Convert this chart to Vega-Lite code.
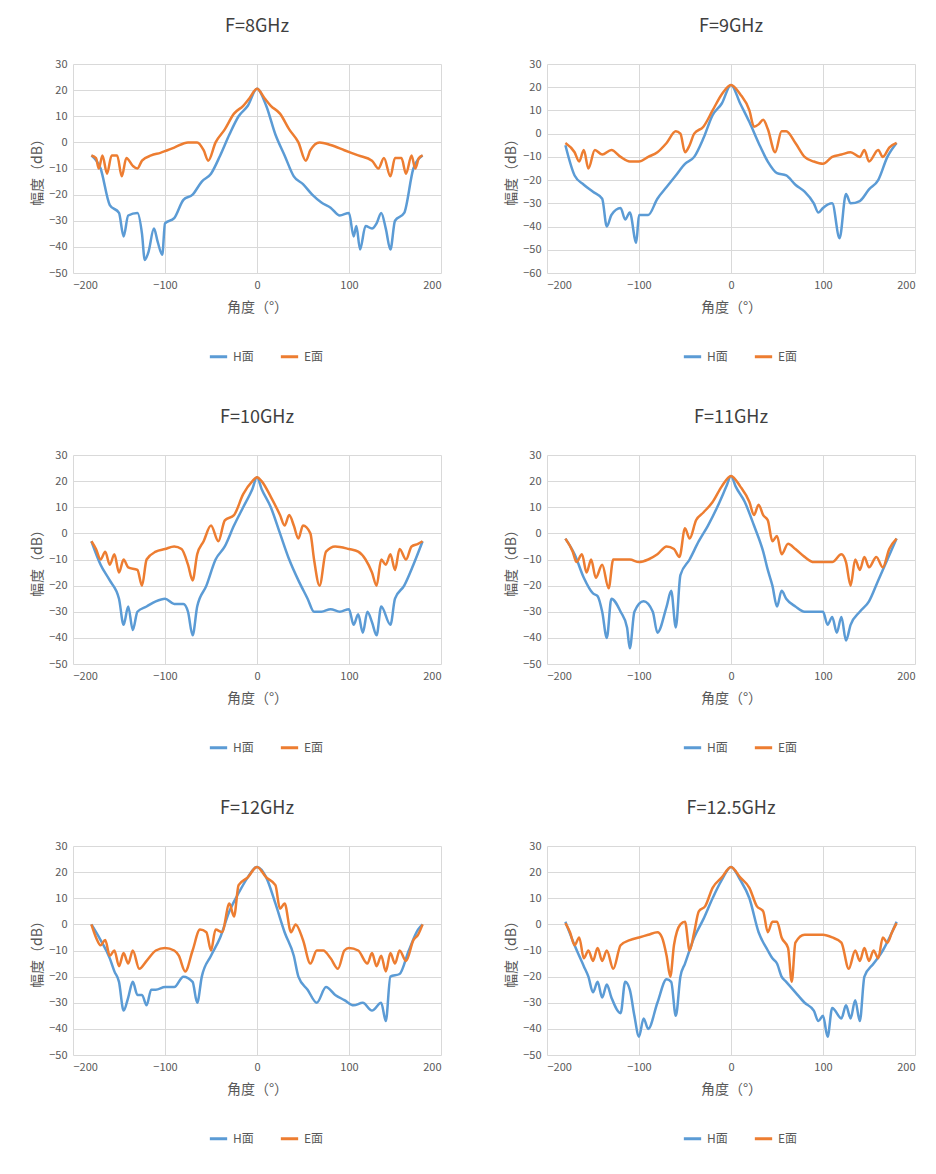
{"$schema":"https://vega.github.io/schema/vega-lite/v6.json","padding":{"left":30,"top":18,"right":5,"bottom":5},"config":{"font":"Noto Sans CJK SC","view":{"stroke":null},"axis":{"labelFontSize":11,"labelColor":"#595959","titleColor":"#595959","titleFontSize":14,"titleFontWeight":"normal","gridColor":"#d9d9d9","domain":false,"ticks":false,"labelPadding":6},"axisX":{"titlePadding":10},"title":{"fontSize":18,"fontWeight":"normal","color":"#404040","offset":22},"legend":{"orient":"none","legendX":135,"legendY":282,"direction":"horizontal","labelFontSize":12,"labelColor":"#595959","symbolType":"stroke","symbolStrokeWidth":3,"symbolSize":300,"title":null,"columnPadding":20}},
"spacing":{"column":63,"row":46},
"columns":2,
"resolve":{"legend":{"color":"independent"},"scale":{"y":"independent"}},
"datasets":{
"d8":[["H",-180,-5],["H",-170,-10],["H",-160,-24],["H",-150,-27],["H",-145,-36],["H",-140,-28],["H",-130,-27],["H",-125,-35],["H",-122,-45],["H",-118,-42],["H",-112,-33],["H",-108,-38],["H",-103,-43],["H",-100,-31],["H",-90,-29],["H",-80,-22],["H",-70,-20],["H",-60,-15],["H",-50,-12],["H",-40,-5],["H",-30,3],["H",-20,10],["H",-10,14],["H",0,20.5],["H",10,14],["H",20,3],["H",30,-5],["H",40,-13],["H",50,-16],["H",60,-20],["H",70,-23],["H",80,-25],["H",90,-28],["H",100,-27],["H",105,-36],["H",108,-32],["H",112,-41],["H",118,-32],["H",125,-33],["H",130,-31],["H",135,-27],["H",140,-33],["H",145,-41],["H",150,-30],["H",160,-27],["H",170,-10],["H",180,-5],
["E",-180,-5],["E",-175,-6],["E",-172,-10],["E",-168,-5],["E",-163,-12],["E",-158,-5],["E",-152,-5],["E",-147,-13],["E",-142,-6],["E",-135,-9],["E",-130,-10],["E",-125,-7],["E",-115,-5],["E",-105,-4],["E",-90,-2],["E",-75,0],["E",-65,0],["E",-58,-3],["E",-53,-7],["E",-45,0],["E",-35,5],["E",-25,11],["E",-15,14],["E",-8,17],["E",0,20.5],["E",8,17],["E",15,14],["E",25,11],["E",35,5],["E",45,0],["E",53,-7],["E",58,-3],["E",68,0],["E",80,-1],["E",95,-3],["E",110,-5],["E",125,-7],["E",132,-10],["E",138,-6],["E",145,-13],["E",150,-6],["E",157,-6],["E",162,-12],["E",168,-5],["E",172,-10],["E",176,-6],["E",180,-5]],
"d9":[["H",-180,-5],["H",-170,-18],["H",-160,-22],["H",-150,-25],["H",-140,-28],["H",-135,-40],["H",-130,-35],["H",-120,-32],["H",-115,-37],["H",-110,-34],["H",-103,-47],["H",-100,-35],["H",-90,-35],["H",-80,-28],["H",-70,-23],["H",-60,-18],["H",-50,-13],["H",-40,-10],["H",-30,-2],["H",-20,8],["H",-10,13],["H",0,21],["H",10,13],["H",20,5],["H",30,-4],["H",40,-12],["H",50,-17],["H",60,-18],["H",70,-22],["H",80,-25],["H",90,-30],["H",95,-34],["H",100,-32],["H",110,-30],["H",118,-45],["H",125,-26],["H",130,-30],["H",140,-29],["H",150,-24],["H",160,-20],["H",170,-10],["H",180,-4],
["E",-180,-4],["E",-170,-8],["E",-165,-12],["E",-160,-7],["E",-155,-15],["E",-148,-7],["E",-140,-9],["E",-130,-7],["E",-120,-10],["E",-110,-12],["E",-100,-12],["E",-90,-10],["E",-80,-8],["E",-70,-4],["E",-60,1],["E",-55,0],["E",-50,-8],["E",-45,-5],["E",-40,0],["E",-30,3],["E",-20,10],["E",-10,17],["E",0,21],["E",10,17],["E",20,10],["E",25,3],["E",30,4],["E",35,6],["E",40,2],["E",48,-8],["E",55,1],["E",60,1],["E",70,-4],["E",80,-10],["E",90,-12],["E",100,-13],["E",110,-10],["E",120,-9],["E",130,-8],["E",140,-10],["E",145,-7],["E",150,-12],["E",160,-7],["E",165,-10],["E",172,-6],["E",180,-4]],
"d10":[["H",-180,-3],["H",-170,-12],["H",-160,-18],["H",-150,-25],["H",-145,-35],["H",-140,-28],["H",-135,-37],["H",-130,-30],["H",-120,-28],["H",-110,-26],["H",-100,-25],["H",-90,-27],["H",-80,-27],["H",-75,-30],["H",-70,-39],["H",-65,-28],["H",-55,-20],["H",-45,-10],["H",-35,-5],["H",-25,3],["H",-15,10],["H",-5,17],["H",0,21.5],["H",5,17],["H",15,10],["H",25,0],["H",35,-10],["H",45,-18],["H",55,-25],["H",62,-30],["H",70,-30],["H",80,-29],["H",90,-30],["H",100,-29],["H",105,-35],["H",110,-31],["H",115,-38],["H",120,-30],["H",125,-34],["H",130,-39],["H",135,-28],["H",145,-35],["H",150,-25],["H",160,-20],["H",170,-12],["H",180,-3],
["E",-180,-3],["E",-175,-6],["E",-170,-10],["E",-165,-7],["E",-160,-12],["E",-155,-8],["E",-150,-15],["E",-145,-10],["E",-140,-13],["E",-130,-14],["E",-125,-20],["E",-120,-10],["E",-110,-7],["E",-100,-6],["E",-90,-5],["E",-82,-6],["E",-75,-12],["E",-70,-18],["E",-65,-8],["E",-58,-3],["E",-50,3],["E",-42,-3],["E",-35,5],["E",-25,7],["E",-15,15],["E",-5,20],["E",0,21.5],["E",5,20],["E",15,14],["E",25,7],["E",30,3],["E",35,7],["E",40,3],["E",45,-2],["E",50,3],["E",58,0],["E",62,-10],["E",68,-20],["E",75,-7],["E",85,-5],["E",100,-6],["E",110,-7],["E",118,-10],["E",125,-15],["E",130,-20],["E",135,-10],["E",140,-12],["E",145,-8],["E",150,-14],["E",155,-6],["E",162,-10],["E",168,-5],["E",175,-4],["E",180,-3]],
"d11":[["H",-180,-2],["H",-170,-8],["H",-160,-17],["H",-150,-23],["H",-145,-24],["H",-140,-30],["H",-135,-40],["H",-130,-25],["H",-120,-30],["H",-113,-36],["H",-110,-44],["H",-105,-30],["H",-95,-26],["H",-85,-30],["H",-80,-38],["H",-70,-28],["H",-65,-22],["H",-60,-36],["H",-55,-16],["H",-45,-10],["H",-35,-3],["H",-25,3],["H",-15,10],["H",-5,18],["H",0,22],["H",5,18],["H",15,12],["H",25,3],["H",35,-7],["H",40,-14],["H",45,-20],["H",50,-28],["H",55,-22],["H",60,-25],["H",70,-28],["H",80,-30],["H",90,-30],["H",100,-30],["H",105,-35],["H",110,-32],["H",115,-38],["H",120,-32],["H",125,-41],["H",130,-35],["H",140,-30],["H",150,-26],["H",160,-18],["H",170,-10],["H",180,-2],
["E",-180,-2],["E",-172,-7],["E",-168,-11],["E",-162,-8],["E",-157,-15],["E",-152,-10],["E",-147,-17],["E",-140,-12],["E",-133,-21],["E",-128,-10],["E",-120,-10],["E",-110,-10],["E",-100,-11],["E",-90,-10],["E",-80,-8],["E",-70,-5],["E",-62,-6],["E",-56,-9],["E",-50,2],["E",-45,-2],["E",-38,5],["E",-30,8],["E",-20,12],["E",-10,18],["E",0,22],["E",10,18],["E",20,12],["E",25,7],["E",30,11],["E",35,7],["E",40,5],["E",45,-3],["E",50,-1],["E",55,-8],["E",62,-4],["E",70,-6],["E",80,-9],["E",90,-11],["E",100,-11],["E",110,-11],["E",120,-8],["E",125,-11],["E",130,-20],["E",135,-10],["E",140,-14],["E",145,-9],["E",150,-13],["E",158,-9],["E",165,-13],["E",172,-6],["E",180,-2]],
"d12":[["H",-180,0],["H",-170,-6],["H",-160,-13],["H",-155,-18],["H",-150,-22],["H",-145,-33],["H",-140,-28],["H",-135,-22],["H",-130,-27],["H",-125,-27],["H",-120,-31],["H",-115,-25],["H",-110,-25],["H",-100,-24],["H",-90,-24],["H",-80,-20],["H",-70,-22],["H",-65,-30],["H",-60,-20],["H",-50,-12],["H",-40,-5],["H",-30,5],["H",-20,12],["H",-10,18],["H",0,22],["H",10,18],["H",20,8],["H",30,-3],["H",40,-12],["H",45,-20],["H",55,-25],["H",65,-30],["H",75,-24],["H",85,-27],["H",95,-29],["H",105,-31],["H",115,-30],["H",125,-33],["H",135,-30],["H",140,-37],["H",145,-20],["H",155,-19],["H",165,-10],["H",175,-2],["H",180,0],
["E",-180,0],["E",-175,-5],["E",-170,-8],["E",-165,-6],["E",-160,-12],["E",-155,-10],["E",-150,-16],["E",-145,-11],["E",-140,-15],["E",-135,-10],["E",-128,-17],["E",-120,-14],["E",-110,-10],["E",-100,-9],["E",-90,-10],["E",-85,-12],["E",-78,-18],["E",-70,-10],["E",-62,-2],["E",-55,-3],["E",-50,-10],["E",-45,-2],["E",-38,-3],["E",-30,8],["E",-25,3],["E",-20,15],["E",-10,18],["E",0,22],["E",10,18],["E",20,15],["E",25,6],["E",30,8],["E",37,-3],["E",42,0],["E",50,-6],["E",58,-15],["E",65,-10],["E",72,-10],["E",80,-13],["E",88,-17],["E",95,-10],["E",100,-9],["E",110,-10],["E",120,-15],["E",125,-11],["E",130,-16],["E",135,-12],["E",140,-18],["E",145,-11],["E",150,-15],["E",155,-10],["E",162,-14],["E",170,-6],["E",175,-4],["E",180,0]],
"d125":[["H",-180,1],["H",-170,-8],["H",-160,-16],["H",-155,-20],["H",-150,-26],["H",-145,-22],["H",-140,-28],["H",-135,-23],["H",-130,-28],["H",-120,-34],["H",-115,-22],["H",-110,-25],["H",-105,-35],["H",-100,-43],["H",-95,-36],["H",-90,-40],["H",-80,-30],["H",-70,-21],["H",-65,-22],["H",-60,-35],["H",-55,-20],["H",-50,-15],["H",-40,-5],["H",-30,2],["H",-20,10],["H",-10,17],["H",0,22],["H",10,17],["H",20,10],["H",30,-3],["H",40,-10],["H",45,-13],["H",50,-15],["H",55,-20],["H",60,-22],["H",70,-26],["H",80,-30],["H",90,-33],["H",95,-37],["H",100,-35],["H",105,-43],["H",110,-32],["H",120,-36],["H",125,-31],["H",130,-36],["H",135,-29],["H",140,-37],["H",145,-20],["H",155,-15],["H",165,-10],["H",175,-3],["H",180,1],
["E",-180,0.5],["E",-175,-3],["E",-170,-8],["E",-165,-5],["E",-160,-13],["E",-155,-10],["E",-150,-14],["E",-145,-9],["E",-140,-14],["E",-135,-10],["E",-128,-17],["E",-120,-8],["E",-110,-6],["E",-100,-5],["E",-90,-4],["E",-80,-3],["E",-75,-5],["E",-70,-12],["E",-66,-20],["E",-62,-8],["E",-55,0],["E",-50,1],["E",-45,-10],["E",-40,-3],["E",-35,5],["E",-28,7],["E",-20,14],["E",-10,18],["E",0,22],["E",10,18],["E",20,14],["E",28,7],["E",35,5],["E",40,-3],["E",45,1],["E",50,1],["E",55,-5],["E",62,-9],["E",66,-22],["E",70,-7],["E",80,-4],["E",100,-4],["E",110,-5],["E",120,-7],["E",128,-17],["E",135,-10],["E",140,-14],["E",145,-9],["E",150,-14],["E",155,-10],["E",160,-13],["E",165,-5],["E",170,-7],["E",175,-3],["E",180,0.5]]
},
"concat":[
{"title":"F=8GHz","data":{"name":"d8"},"width":368,"height":209,"transform":[{"calculate":"datum[0]+'面'","as":"s"},{"calculate":"datum[1]","as":"a"},{"calculate":"datum[2]","as":"v"}],"mark":{"type":"line","interpolate":"monotone","strokeWidth":2.5},"encoding":{"x":{"field":"a","type":"quantitative","title":"角度（°）","scale":{"domain":[-200,200],"nice":false},"axis":{"values":[-200,-100,0,100,200]}},"y":{"field":"v","type":"quantitative","title":"幅度（dB）","scale":{"domain":[-50,30],"nice":false},"axis":{"tickCount":8}},"color":{"field":"s","type":"nominal","sort":["H面","E面"],"scale":{"domain":["H面","E面"],"range":["#5B9BD5","#ED7D31"]}},"order":{"field":"a"}}},
{"title":"F=9GHz","data":{"name":"d9"},"width":368,"height":209,"transform":[{"calculate":"datum[0]+'面'","as":"s"},{"calculate":"datum[1]","as":"a"},{"calculate":"datum[2]","as":"v"}],"mark":{"type":"line","interpolate":"monotone","strokeWidth":2.5},"encoding":{"x":{"field":"a","type":"quantitative","title":"角度（°）","scale":{"domain":[-200,200],"nice":false},"axis":{"values":[-200,-100,0,100,200]}},"y":{"field":"v","type":"quantitative","title":"幅度（dB）","scale":{"domain":[-60,30],"nice":false},"axis":{"tickCount":9}},"color":{"field":"s","type":"nominal","sort":["H面","E面"],"scale":{"domain":["H面","E面"],"range":["#5B9BD5","#ED7D31"]}},"order":{"field":"a"}}},
{"title":"F=10GHz","data":{"name":"d10"},"width":368,"height":209,"transform":[{"calculate":"datum[0]+'面'","as":"s"},{"calculate":"datum[1]","as":"a"},{"calculate":"datum[2]","as":"v"}],"mark":{"type":"line","interpolate":"monotone","strokeWidth":2.5},"encoding":{"x":{"field":"a","type":"quantitative","title":"角度（°）","scale":{"domain":[-200,200],"nice":false},"axis":{"values":[-200,-100,0,100,200]}},"y":{"field":"v","type":"quantitative","title":"幅度（dB）","scale":{"domain":[-50,30],"nice":false},"axis":{"tickCount":8}},"color":{"field":"s","type":"nominal","sort":["H面","E面"],"scale":{"domain":["H面","E面"],"range":["#5B9BD5","#ED7D31"]}},"order":{"field":"a"}}},
{"title":"F=11GHz","data":{"name":"d11"},"width":368,"height":209,"transform":[{"calculate":"datum[0]+'面'","as":"s"},{"calculate":"datum[1]","as":"a"},{"calculate":"datum[2]","as":"v"}],"mark":{"type":"line","interpolate":"monotone","strokeWidth":2.5},"encoding":{"x":{"field":"a","type":"quantitative","title":"角度（°）","scale":{"domain":[-200,200],"nice":false},"axis":{"values":[-200,-100,0,100,200]}},"y":{"field":"v","type":"quantitative","title":"幅度（dB）","scale":{"domain":[-50,30],"nice":false},"axis":{"tickCount":8}},"color":{"field":"s","type":"nominal","sort":["H面","E面"],"scale":{"domain":["H面","E面"],"range":["#5B9BD5","#ED7D31"]}},"order":{"field":"a"}}},
{"title":"F=12GHz","data":{"name":"d12"},"width":368,"height":209,"transform":[{"calculate":"datum[0]+'面'","as":"s"},{"calculate":"datum[1]","as":"a"},{"calculate":"datum[2]","as":"v"}],"mark":{"type":"line","interpolate":"monotone","strokeWidth":2.5},"encoding":{"x":{"field":"a","type":"quantitative","title":"角度（°）","scale":{"domain":[-200,200],"nice":false},"axis":{"values":[-200,-100,0,100,200]}},"y":{"field":"v","type":"quantitative","title":"幅度（dB）","scale":{"domain":[-50,30],"nice":false},"axis":{"tickCount":8}},"color":{"field":"s","type":"nominal","sort":["H面","E面"],"scale":{"domain":["H面","E面"],"range":["#5B9BD5","#ED7D31"]}},"order":{"field":"a"}}},
{"title":"F=12.5GHz","data":{"name":"d125"},"width":368,"height":209,"transform":[{"calculate":"datum[0]+'面'","as":"s"},{"calculate":"datum[1]","as":"a"},{"calculate":"datum[2]","as":"v"}],"mark":{"type":"line","interpolate":"monotone","strokeWidth":2.5},"encoding":{"x":{"field":"a","type":"quantitative","title":"角度（°）","scale":{"domain":[-200,200],"nice":false},"axis":{"values":[-200,-100,0,100,200]}},"y":{"field":"v","type":"quantitative","title":"幅度（dB）","scale":{"domain":[-50,30],"nice":false},"axis":{"tickCount":8}},"color":{"field":"s","type":"nominal","sort":["H面","E面"],"scale":{"domain":["H面","E面"],"range":["#5B9BD5","#ED7D31"]}},"order":{"field":"a"}}}
]}
